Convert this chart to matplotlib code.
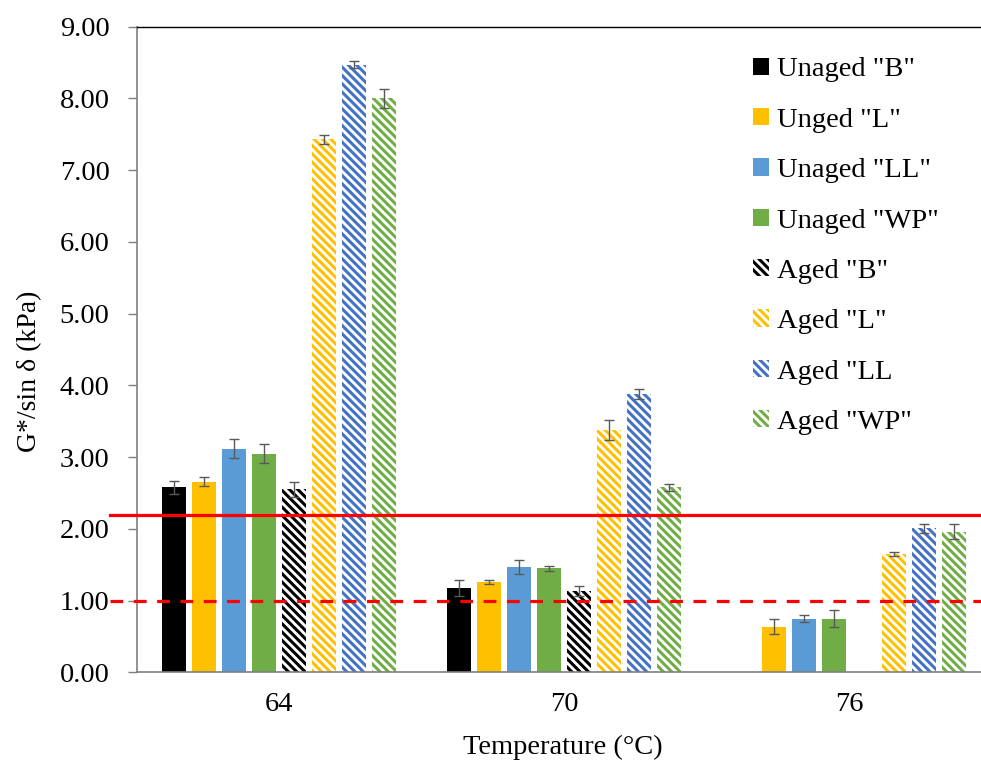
import numpy as np
import matplotlib
matplotlib.use("Agg")
import matplotlib.pyplot as plt

plt.rcParams['font.family'] = ['Liberation Serif', 'DejaVu Serif']
plt.rcParams['hatch.linewidth'] = 2.2

temps = ['64', '70', '76']
labels = ['Unaged "B"', 'Unged "L"', 'Unaged "LL"', 'Unaged "WP"',
          'Aged "B"', 'Aged "L"', 'Aged "LL', 'Aged "WP"']
colors = ['#000000', '#FFC000', '#5B9BD5', '#70AD47',
          '#000000', '#FFC000', '#4472C4', '#70AD47']
aged = [False, False, False, False, True, True, True, True]

# G*/sin(delta) in kPa at 64, 70, 76 C  (nan = not tested)
vals = [
    [2.58, 1.18, np.nan],
    [2.66, 1.26, 0.64],
    [3.12, 1.47, 0.75],
    [3.05, 1.45, 0.75],
    [2.55, 1.13, np.nan],
    [7.43, 3.38, 1.65],
    [8.47, 3.88, 2.01],
    [8.00, 2.58, 1.96],
]
errs = [
    [0.09, 0.11, 0.0],
    [0.06, 0.03, 0.11],
    [0.13, 0.10, 0.05],
    [0.13, 0.03, 0.115],
    [0.10, 0.07, 0.0],
    [0.065, 0.135, 0.025],
    [0.05, 0.07, 0.06],
    [0.135, 0.05, 0.105],
]
limit_orig = 2.2   # solid red line
limit_aged = 1.0   # dashed red line

fig = plt.figure(figsize=(9.81, 7.62), dpi=100)
ax = fig.add_axes([0.1393, 0.1175, 0.8714, 0.8475])

x = np.arange(len(temps))
step = 0.105
w = 0.084
handles = []
for i in range(len(labels)):
    pos = x + (i - 3.5) * step
    if aged[i]:
        b = ax.bar(pos, vals[i], w, facecolor='white', edgecolor=colors[i],
                   linewidth=0, hatch='\\\\\\\\', label=labels[i], zorder=2)
    else:
        b = ax.bar(pos, vals[i], w, color=colors[i], linewidth=0,
                   label=labels[i], zorder=2)
    handles.append(b)
    e = np.array(errs[i])
    v = np.array(vals[i])
    ok = ~np.isnan(v)
    ax.errorbar(pos[ok], v[ok], yerr=e[ok], fmt='none', ecolor='#595959',
                elinewidth=1.0, capsize=3.5, capthick=1.0, zorder=3)

ax.plot([-0.593, 2.6], [limit_orig, limit_orig], color='#FF0000', lw=2.3,
        clip_on=False, zorder=4)
ax.plot([-0.593, 2.6], [limit_aged, limit_aged], color='#FF0000', lw=2.3,
        ls=(0, (4, 3.3)), clip_on=False, zorder=4)

ax.set_xlim(-0.5, 2.5)
ax.set_ylim(0, 9)
ax.set_yticks(np.arange(0, 9.01, 1.0))
ax.set_yticklabels(['%.2f' % t for t in np.arange(0, 9.01, 1.0)])
ax.set_xticks(x)
ax.set_xticklabels(temps)

ax.spines['right'].set_visible(False)
ax.spines['top'].set_color('black')
ax.spines['top'].set_linewidth(1.0)
ax.spines['left'].set_color('#7F7F7F')
ax.spines['bottom'].set_color('#7F7F7F')
ax.spines['left'].set_linewidth(1.2)
ax.spines['bottom'].set_linewidth(1.2)
ax.tick_params(axis='y', direction='out', length=6.5, width=1.0,
               color='#7F7F7F', labelsize=20.5, pad=13)
ax.tick_params(axis='x', length=0, labelsize=20.5, pad=14)

fig.text(30 / 981, 1 - 371 / 762, 'G*/sin δ (kPa)', rotation=90,
         ha='center', va='center', fontsize=20)
fig.text(563 / 981, 1 - 747 / 762, 'Temperature (°C)', ha='center',
         va='center', fontsize=20.5)

ax.legend(handles=handles, loc='upper left', bbox_to_anchor=(753 / 981, 1 - 57.5 / 762),
          bbox_transform=fig.transFigure, frameon=False, fontsize=20.5,
          handlelength=0.56, handleheight=0.56, handletextpad=0.28,
          labelspacing=0.89, borderpad=0, borderaxespad=0)

fig.savefig('out.png', dpi=100)
